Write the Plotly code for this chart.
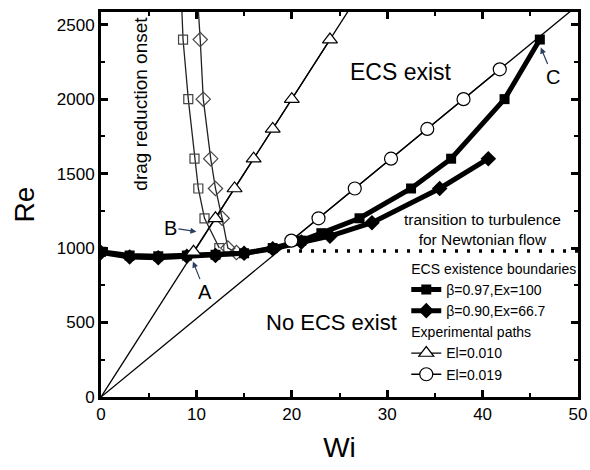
import plotly.graph_objects as go

# ---- data ----
dro_sq_wi = [8.35, 8.6, 9.15, 9.8, 10.2, 10.85, 12.4]
dro_sq_re = [2800, 2400, 2000, 1600, 1400, 1200, 1000]
dro_di_wi = [10.0, 10.4, 10.72, 11.5, 12.0, 12.7, 13.3, 14.2]
dro_di_re = [2800, 2400, 2000, 1600, 1400, 1200, 1000, 970]

el010_wi = [9.7, 12, 14, 16, 18, 20, 24]
el010_re = [975, 1200, 1400, 1600, 1800, 2000, 2400]
el019_wi = [19.95, 22.8, 26.6, 30.4, 34.2, 38.0, 41.8]
el019_re = [1050, 1200, 1400, 1600, 1800, 2000, 2200]
el_values = [0.010, 0.019]
path_wi = [0, 50]

b97_wi = [0, 3, 6, 9, 12, 15, 18, 21, 23.1, 27.1, 32.5, 36.7, 42.3, 46.0]
b97_re = [975, 950, 945, 950, 955, 965, 1000, 1050, 1100, 1200, 1400, 1600, 2000, 2400]
b90_wi = [0, 3, 6, 9, 12, 15, 18, 21, 24, 28.4, 35.5, 40.6]
b90_re = [970, 940, 935, 945, 950, 965, 995, 1040, 1080, 1170, 1400, 1600]

newt_wi = [19.5, 50]
newt_re = [980, 980]

FONT = "Liberation Sans, Arial, sans-serif"

fig = go.Figure()

# experimental path lines Re = Wi / El
for el in el_values:
    fig.add_trace(go.Scatter(x=path_wi, y=[w / el for w in path_wi], mode="lines",
                             line=dict(color="black", width=1.3), showlegend=False,
                             hoverinfo="skip"))

# Newtonian transition
fig.add_trace(go.Scatter(x=newt_wi, y=newt_re, mode="lines",
                         line=dict(color="black", width=3.5, dash="3px,9px"),
                         showlegend=False))

# drag reduction onset
fig.add_trace(go.Scatter(x=dro_sq_wi, y=dro_sq_re, mode="lines+markers",
                         line=dict(color="#222", width=1.3),
                         marker=dict(symbol="square-open", size=9, color="#444",
                                     line=dict(width=1.2)),
                         showlegend=False))
fig.add_trace(go.Scatter(x=dro_di_wi, y=dro_di_re, mode="lines+markers",
                         line=dict(color="#222", width=1.3),
                         marker=dict(symbol="diamond-open", size=11, color="#444",
                                     line=dict(width=1.2)),
                         showlegend=False))

LEG = 14

# ECS existence boundaries
fig.add_trace(go.Scatter(x=b97_wi, y=b97_re, mode="lines+markers", name="β=0.97,Ex=100",
                         legendgroup="ecs",
                         legendgrouptitle=dict(text="ECS existence boundaries",
                                               font=dict(size=LEG, family=FONT, color="black")),
                         line=dict(color="black", width=5),
                         marker=dict(symbol="square", size=10, color="black")))
fig.add_trace(go.Scatter(x=b90_wi, y=b90_re, mode="lines+markers", name="β=0.90,Ex=66.7",
                         legendgroup="ecs",
                         line=dict(color="black", width=5),
                         marker=dict(symbol="diamond", size=12, color="black")))

# experimental paths
fig.add_trace(go.Scatter(x=el010_wi, y=el010_re, mode="lines+markers", name="El=0.010",
                         legendgroup="exp",
                         legendgrouptitle=dict(text="Experimental paths",
                                               font=dict(size=LEG, family=FONT, color="black")),
                         line=dict(color="black", width=1.3),
                         marker=dict(symbol="triangle-up", size=13, color="white",
                                     line=dict(color="black", width=1.2))))
fig.add_trace(go.Scatter(x=el019_wi, y=el019_re, mode="lines+markers", name="El=0.019",
                         legendgroup="exp",
                         line=dict(color="black", width=1.3),
                         marker=dict(symbol="circle", size=13, color="white",
                                     line=dict(color="black", width=1.2))))

ann = [
    dict(x=31.4, y=2185, text="ECS exist", showarrow=False, font=dict(size=23)),
    dict(x=24.2, y=499, text="No ECS exist", showarrow=False, font=dict(size=22)),
    dict(x=40.0, y=1122, text="transition to turbulence<br>for Newtonian flow",
         showarrow=False, font=dict(size=15.5)),
    dict(x=4.2, y=1970, text="drag reduction onset", textangle=-90, showarrow=False,
         font=dict(size=19)),
    dict(x=10.0, y=1110, text="B", ax=-26, ay=-4, showarrow=True, arrowhead=2,
         arrowsize=1, arrowwidth=1.2, font=dict(size=20)),
    dict(x=9.64, y=909, text="A", ax=12, ay=30, showarrow=True, arrowhead=2,
         arrowsize=1, arrowwidth=1.2, font=dict(size=20)),
    dict(x=46.1, y=2346, text="C", ax=12, ay=29, showarrow=True, arrowhead=2,
         arrowsize=1, arrowwidth=1.2, font=dict(size=20)),
]
for a in ann:
    a.setdefault("xref", "x")
    a.setdefault("yref", "y")
    a["font"] = dict(family=FONT, color="black", **a["font"])

axis_common = dict(showline=True, linecolor="black", linewidth=3, mirror="ticks",
                   ticks="inside", ticklen=7, tickwidth=2.5, tickcolor="black",
                   showgrid=False, zeroline=False,
                   tickfont=dict(family=FONT, size=17, color="black"))

fig.update_layout(
    width=590, height=470,
    margin=dict(l=101, r=12, t=12, b=73, autoexpand=False),
    paper_bgcolor="white", plot_bgcolor="white",
    font=dict(family=FONT, color="black"),
    annotations=ann,
    xaxis=dict(range=[0, 50], dtick=10, tick0=0,
               minor=dict(dtick=5, ticks="inside", ticklen=4, tickwidth=2, tickcolor="black"),
               title=dict(text="Wi", font=dict(family=FONT, size=28), standoff=14),
               **axis_common),
    yaxis=dict(range=[0, 2585], dtick=500, tick0=0,
               minor=dict(dtick=250, ticks="inside", ticklen=4, tickwidth=2, tickcolor="black"),
               title=dict(text="Re", font=dict(family=FONT, size=28), standoff=14),
               **axis_common),
    legend=dict(x=0.64, y=0.375, xanchor="left", yanchor="top",
                bgcolor="rgba(0,0,0,0)", font=dict(family=FONT, size=LEG, color="black"),
                itemwidth=30, tracegroupgap=0),
    showlegend=True,
)

fig.write_html("out.html")
